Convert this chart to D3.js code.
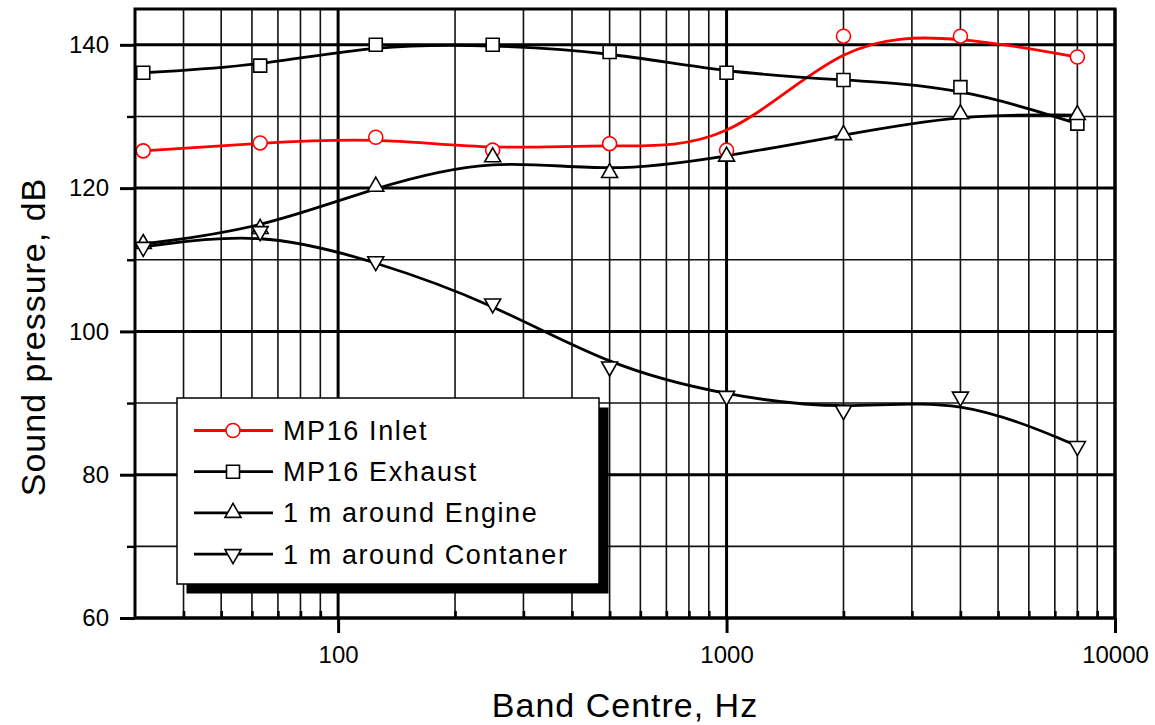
<!DOCTYPE html>
<html>
<head>
<meta charset="utf-8">
<script src="https://cdn.jsdelivr.net/npm/d3@7"></script>
<style>
  html, body { margin: 0; padding: 0; background: #fff; }
  svg { display: block; font-family: "Liberation Sans", Arial, sans-serif; }
</style>
</head>
<body>
<svg id="chart" width="1155" height="725"></svg>
<script>
// octave band centres, Hz
const freqs = [31.5, 63, 125, 250, 500, 1000, 2000, 4000, 8000];

const inlet     = [125.2, 126.3, 127.1, 125.3, 126.2, 125.3, 141.2, 141.2, 138.3];
const exhaust   = [136.1, 137.1, 140.0, 140.0, 139.0, 136.1, 135.1, 134.1, 129.0];
const engine    = [112.2, 114.3, 120.2, 124.3, 122.1, 124.4, 127.4, 130.3, 130.2];
const container = [111.8, 114.0, 109.8, 103.9, 95.1, 91.0, 89.0, 90.9, 84.0];

const seriesNames = ['MP16 Inlet', 'MP16 Exhaust', '1 m around Engine', '1 m around Contaner'];

const xMajor = [100, 1000, 10000];
const xMinor = [40, 50, 60, 70, 80, 90, 200, 300, 400, 500, 600, 700, 800, 900,
                2000, 3000, 4000, 5000, 6000, 7000, 8000, 9000];
const yMajor = [60, 80, 100, 120, 140];
const yMinor = [70, 90, 110, 130];

const width = 1155;
const height = 725;
const plot = { left: 135, right: 1115, top: 9, bottom: 618 };

const svg = d3.select('#chart');

const x = d3.scaleLog().domain([30, 10000]).range([plot.left, plot.right]);
const y = d3.scaleLinear().domain([60, 145]).range([plot.bottom, plot.top]);

// grid
const grid = svg.append('g');
xMinor.forEach(v => {
  grid.append('line')
    .attr('x1', x(v)).attr('x2', x(v))
    .attr('y1', plot.top).attr('y2', plot.bottom)
    .attr('stroke', '#111').attr('stroke-width', 1.6);
});
yMinor.forEach(v => {
  grid.append('line')
    .attr('x1', plot.left).attr('x2', plot.right)
    .attr('y1', y(v)).attr('y2', y(v))
    .attr('stroke', '#111').attr('stroke-width', 1.6);
});
xMajor.forEach(v => {
  grid.append('line')
    .attr('x1', x(v)).attr('x2', x(v))
    .attr('y1', plot.top).attr('y2', plot.bottom)
    .attr('stroke', '#000').attr('stroke-width', 3);
});
yMajor.forEach(v => {
  grid.append('line')
    .attr('x1', plot.left).attr('x2', plot.right)
    .attr('y1', y(v)).attr('y2', y(v))
    .attr('stroke', '#000').attr('stroke-width', 3);
});

// axes
const fmtX = d => String(d);

const xMinorAxis = svg.append('g')
  .attr('transform', `translate(0,${plot.bottom})`)
  .call(d3.axisBottom(x).tickValues(xMinor).tickSize(-7).tickFormat(''));
xMinorAxis.selectAll('line').attr('stroke-width', 2.6);

const xAxis = svg.append('g')
  .attr('transform', `translate(0,${plot.bottom})`)
  .call(d3.axisBottom(x).tickValues(xMajor).tickSize(15).tickPadding(13).tickFormat(fmtX));
xAxis.selectAll('line').attr('stroke-width', 3);
xAxis.selectAll('text').attr('font-size', 24).attr('fill', '#000')
  .attr('font-family', '"Liberation Sans", Arial, sans-serif');

const yMinorAxis = svg.append('g')
  .attr('transform', `translate(${plot.left},0)`)
  .call(d3.axisLeft(y).tickValues(yMinor).tickSize(8).tickFormat(''));
yMinorAxis.selectAll('line').attr('stroke-width', 2.4);

const yAxis = svg.append('g')
  .attr('transform', `translate(${plot.left},0)`)
  .call(d3.axisLeft(y).tickValues(yMajor).tickSize(15).tickPadding(11));
yAxis.selectAll('line').attr('stroke-width', 3);
yAxis.selectAll('text').attr('font-size', 24).attr('fill', '#000')
  .attr('font-family', '"Liberation Sans", Arial, sans-serif');

[xMinorAxis, xAxis, yMinorAxis, yAxis].forEach(a => a.select('.domain').remove());

// series
const series = [
  { name: seriesNames[0], values: inlet, color: '#ff0000', marker: 'circle' },
  { name: seriesNames[1], values: exhaust, color: '#000', marker: 'square' },
  { name: seriesNames[2], values: engine, color: '#000', marker: 'up' },
  { name: seriesNames[3], values: container, color: '#000', marker: 'down' }
];

const line = d3.line()
  .x(d => x(d[0]))
  .y(d => y(d[1]))
  .curve(d3.curveBasis);

const markerPath = {
  square: d3.symbol(d3.symbolSquare, 13 * 13)(),
  up: 'M0,-9.5L8,4.5L-8,4.5Z',
  down: 'M0,9.5L8,-4.5L-8,-4.5Z'
};

function drawMarker (g, s, cx, cy) {
  if (s.marker === 'circle') {
    g.append('circle')
      .attr('cx', cx).attr('cy', cy).attr('r', 7)
      .attr('fill', '#fff').attr('stroke', s.color).attr('stroke-width', 1.6);
  } else {
    g.append('path')
      .attr('d', markerPath[s.marker])
      .attr('transform', `translate(${cx},${cy})`)
      .attr('fill', '#fff').attr('stroke', s.color).attr('stroke-width', 1.6);
  }
}

const curves = svg.append('g');
series.forEach(s => {
  const pts = freqs.map((f, i) => [f, s.values[i]]);
  curves.append('path')
    .datum(pts)
    .attr('d', line)
    .attr('fill', 'none')
    .attr('stroke', s.color)
    .attr('stroke-width', 2.8)
    .attr('stroke-linejoin', 'round');
});
const marks = svg.append('g');
series.forEach(s => {
  freqs.forEach((f, i) => drawMarker(marks, s, x(f), y(s.values[i])));
});

// frame
svg.append('rect')
  .attr('x', plot.left).attr('y', plot.top)
  .attr('width', plot.right - plot.left).attr('height', plot.bottom - plot.top)
  .attr('fill', 'none').attr('stroke', '#000').attr('stroke-width', 3);

// axis titles
svg.append('text')
  .attr('x', (plot.left + plot.right) / 2).attr('y', 717)
  .attr('text-anchor', 'middle')
  .attr('font-size', 34).attr('letter-spacing', 1)
  .text('Band Centre, Hz');

svg.append('text')
  .attr('transform', 'translate(45,337) rotate(-90)')
  .attr('text-anchor', 'middle')
  .attr('font-size', 34).attr('letter-spacing', 1)
  .text('Sound pressure, dB');

// legend
const lg = { x: 177, y: 398, w: 422, h: 186, shadow: 9.5, row: 41.2 };
const legend = svg.append('g');
legend.append('rect')
  .attr('x', lg.x + lg.shadow).attr('y', lg.y + lg.shadow)
  .attr('width', lg.w).attr('height', lg.h)
  .attr('fill', '#000');
legend.append('rect')
  .attr('x', lg.x).attr('y', lg.y)
  .attr('width', lg.w).attr('height', lg.h)
  .attr('fill', '#fff').attr('stroke', '#000').attr('stroke-width', 1.5);

series.forEach((s, i) => {
  const cy = lg.y + 32.5 + i * lg.row;
  legend.append('line')
    .attr('x1', 194).attr('x2', 273)
    .attr('y1', cy).attr('y2', cy)
    .attr('stroke', s.color).attr('stroke-width', 2.8);
  drawMarker(legend, s, 233, cy);
  legend.append('text')
    .attr('x', 283).attr('y', cy + 9.5)
    .attr('font-size', 27).attr('letter-spacing', 1.6)
    .text(s.name);
});
</script>
</body>
</html>
